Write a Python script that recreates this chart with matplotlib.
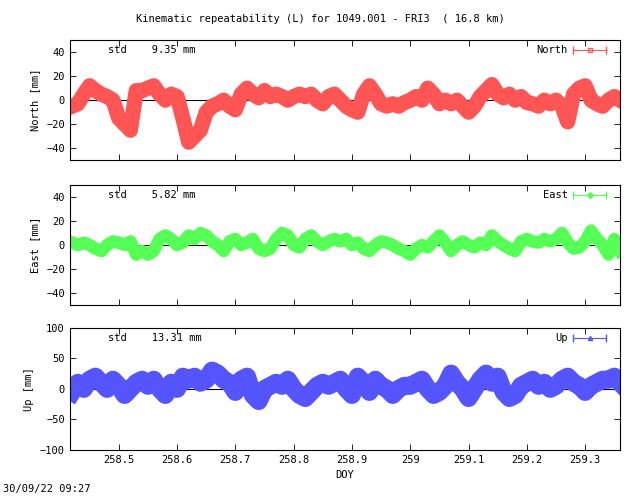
import numpy as np
import matplotlib
matplotlib.use("Agg")
import matplotlib.pyplot as plt

# DOY grid of the read-off points (every 0.01 day)
doy = np.round(np.arange(258.42, 259.365, 0.01), 2)

north = [-5, -3, 5, 12, 8, 5, 3, 0, -15, -20, -25, 8, 8, 10, 12, 5, 0, 5, 3, -15,
         -35, -30, -25, -10, -5, -3, 0, -5, -8, 5, 10, 5, 2, 8, 3, 5, 3, 0, 3, 5,
         3, 5, 0, -3, 3, 5, 0, -5, -8, -10, 5, 12, 5, -3, -5, -3, -5, -2, 0, 3,
         0, 10, 5, -3, 0, -3, 0, -5, -10, -5, 3, 8, 13, 5, 2, 5, 0, 3, -2, -3,
         -5, 0, -3, 0, -5, -18, 5, 10, 12, 0, -3, -5, 0, 3, 0]
east = [2, 0, 2, 0, -3, -5, 0, 3, 2, 0, 3, -8, -5, -8, -5, 5, 8, 5, 0, 2,
        8, 5, 10, 8, 3, 0, -5, 3, 5, 0, 2, 5, -3, -5, -3, 5, 10, 8, 0, -2,
        5, 8, 3, 0, 3, 5, 3, 5, 0, 2, -3, -5, 0, 3, 2, 0, -3, -5, -8, -3,
        0, -2, 3, 8, 2, -5, 0, 3, 0, -2, 2, 0, 8, 3, 0, -3, -5, 3, 5, 3,
        2, 5, 3, 5, 10, 2, -3, -2, 3, 12, 5, 0, -8, 5, -5]
up = [-5, 10, 0, 15, 20, 10, 0, 15, 5, -10, 0, 10, 15, 5, 15, 0, -10, 10, 0, 20,
      15, 20, 10, 15, 30, 25, 15, 10, -5, 15, 20, -10, -20, 0, 5, 10, 5, 15, 0, -10,
      -15, -5, 5, 10, 5, 10, 15, 0, -10, 20, 10, -5, 15, 5, 0, -10, 0, 5, 5, 10,
      15, 0, -10, -5, 5, 25, 10, 0, -15, 0, 15, 25, 10, 20, -5, -15, -10, 5, 10, 15,
      5, 10, 0, 5, 15, 20, 10, 5, -5, 5, 10, 15, 15, 20, 10]

names = ["North", "East", "Up"]
stds = ["9.35", "5.82", "13.31"]
series = [north, east, up]
colors = ["#ff5555", "#55ff55", "#5555ff"]
markers = ["s", "D", "^"]
band_widths = [11, 9, 13]
ylims = [(-50, 50), (-50, 50), (-100, 100)]
yticks = [[-40, -20, 0, 20, 40], [-40, -20, 0, 20, 40], [-100, -50, 0, 50, 100]]
xticks = [258.5, 258.6, 258.7, 258.8, 258.9, 259.0, 259.1, 259.2, 259.3]
xlabels = ["258.5", "258.6", "258.7", "258.8", "258.9", "259", "259.1", "259.2", "259.3"]

plt.rcParams["font.family"] = "DejaVu Sans Mono"
plt.rcParams["font.size"] = 7.5

fig = plt.figure(figsize=(6.4, 4.96), dpi=100)
bottoms = [0.677, 0.385, 0.093]
heights = [0.242, 0.242, 0.246]

for i in range(3):
    ax = fig.add_axes([0.109, bottoms[i], 0.86, heights[i]])
    ax.axhline(0, color="black", lw=0.8)
    ax.plot(doy, series[i], color=colors[i], lw=band_widths[i], solid_joinstyle="round")
    ax.set_xlim(258.416, 259.36)
    ax.set_ylim(*ylims[i])
    ax.set_yticks(yticks[i])
    ax.set_xticks(xticks)
    ax.tick_params(direction="in", top=True, right=True, length=4, width=0.6)
    if i == 2:
        ax.set_xticklabels(xlabels)
        ax.set_xlabel("DOY")
    else:
        ax.set_xticklabels([])
    ax.set_ylabel(names[i] + " [mm]")
    for s in ax.spines.values():
        s.set_linewidth(0.8)
    ax.text(0.07, 0.92, "std    " + stds[i] + " mm", transform=ax.transAxes, va="center")
    ax.text(0.905, 0.92, names[i], transform=ax.transAxes, va="center", ha="right")
    ax.errorbar([0.945], [0.92], xerr=[0.03], transform=ax.transAxes, color=colors[i],
                marker=markers[i], ms=3, mfc="none" if i == 0 else colors[i],
                capsize=3, lw=0.8, clip_on=False)

fig.text(0.5, 0.955, "Kinematic repeatability (L) for 1049.001 - FRI3  ( 16.8 km)", ha="center")
fig.text(0.005, 0.008, "30/09/22 09:27")

fig.savefig("out.png", dpi=100)
